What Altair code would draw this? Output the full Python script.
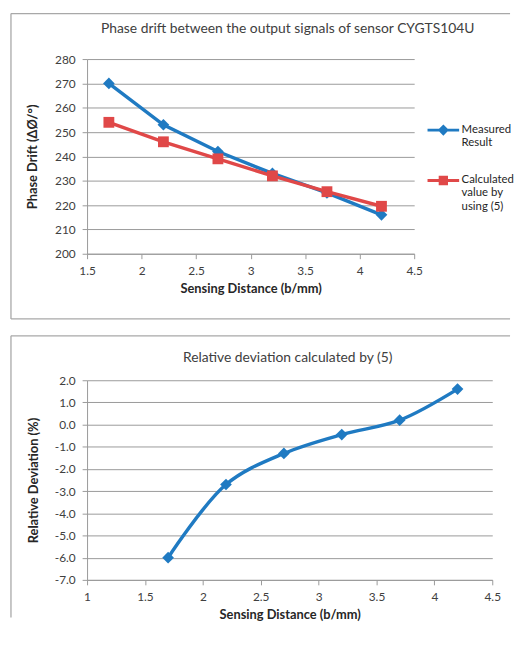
import altair as alt
import pandas as pd

# ---- data ----
distance = [1.7, 2.2, 2.7, 3.2, 3.7, 4.2]
measured = [270, 253, 242, 233, 225, 216]
calculated = [254, 246, 239, 232, 225.5, 219.5]
deviation = [-6.0, -2.7, -1.3, -0.45, 0.2, 1.6]
series_names = ["Measured Result", "Calculated value by using (5)"]
top_title = "Phase drift between the output signals of sensor CYGTS104U"
bot_title = "Relative deviation calculated by (5)"
top_x_ticks = [1.5, 2, 2.5, 3, 3.5, 4, 4.5]
top_y_ticks = [200, 210, 220, 230, 240, 250, 260, 270, 280]
bot_x_ticks = [1, 1.5, 2, 2.5, 3, 3.5, 4, 4.5]
bot_y_ticks = [-7, -6, -5, -4, -3, -2, -1, 0, 1, 2]

BLUE = "#1f7ac2"
RED = "#e04848"
GRID = "#9a9a9a"
FRAME = "#a8a8a8"
FONT = "Lato"

df_top = pd.DataFrame({
    "distance": distance * 2,
    "value": measured + calculated,
    "series": [series_names[0]] * len(distance) + [series_names[1]] * len(distance),
})
df_bot = pd.DataFrame({"distance": distance, "deviation": deviation})
one = pd.DataFrame({"k": [0]})

TW, TH = 331, 197
BW, BH = 410, 202

# ---------------- top panel ----------------
xt = alt.X("distance:Q", scale=alt.Scale(domain=[1.5, 4.5], nice=False, zero=False),
           axis=alt.Axis(values=top_x_ticks, tickCount=7, format="~g", grid=False, labelOverlap=False,
                         labelFlush=False, title="Sensing Distance (b/mm)"))
yt = alt.Y("value:Q", scale=alt.Scale(domain=[200, 280], nice=False, zero=False),
           axis=alt.Axis(values=top_y_ticks, tickCount=9, format="d", grid=True, titlePadding=15,
                         labelOverlap=False, labelFlush=False, labelSeparation=-20,
                         title="Phase Drift (ΔØ/°)"))

base_top = alt.Chart(df_top)
m_line = base_top.transform_filter(alt.datum.series == series_names[0]).mark_line(
    color=BLUE, strokeWidth=3.5).encode(x=xt, y=yt)
m_pts = base_top.transform_filter(alt.datum.series == series_names[0]).mark_point(
    shape="diamond", filled=True, size=140, color=BLUE, opacity=1).encode(x=xt, y=yt)
c_line = base_top.transform_filter(alt.datum.series == series_names[1]).mark_line(
    color=RED, strokeWidth=3.5).encode(x=xt, y=yt)
c_pts = base_top.transform_filter(alt.datum.series == series_names[1]).mark_point(
    shape="square", filled=True, size=120, color=RED, opacity=1).encode(x=xt, y=yt)

path_m = "M-1,0.4L1,0.4M0,0.18L0.22,0.4L0,0.62L-0.22,0.4Z"
path_c = "M-1,0.4L1,0.4M-0.2,0.2L0.2,0.2L0.2,0.6L-0.2,0.6Z"
label_expr = ("datum.label == 'Measured Result' ? ['Measured', 'Result'] : "
              "['Calculated', 'value by', 'using (5)']")
leg = alt.Legend(title=None, labelExpr=label_expr)
legend_layer = base_top.transform_filter("datum.distance < 0").mark_point(
    filled=True, strokeWidth=3).encode(
    x=xt, y=yt,
    color=alt.Color("series:N", scale=alt.Scale(domain=series_names, range=[BLUE, RED]), legend=leg),
    stroke=alt.Stroke("series:N", scale=alt.Scale(domain=series_names, range=[BLUE, RED]), legend=leg),
    shape=alt.Shape("series:N", scale=alt.Scale(domain=series_names, range=[path_m, path_c]), legend=leg),
)

fr = alt.Chart(one)
top_deco = alt.layer(
    fr.mark_rule(color=FRAME, strokeWidth=1.3).encode(x=alt.value(-77), x2=alt.value(428), y=alt.value(-46)),
    fr.mark_rule(color=FRAME, strokeWidth=1.3).encode(x=alt.value(-77), y=alt.value(-46), y2=alt.value(263)),
    fr.mark_rule(color=FRAME, strokeWidth=1.3).encode(x=alt.value(-77), x2=alt.value(428), y=alt.value(263)),
    fr.mark_text(font=FONT, fontSize=14, color="#404040", align="center", baseline="middle").encode(
        x=alt.value(203), y=alt.value(-30), text=alt.value(top_title)),
)

top = alt.layer(m_line, m_pts, c_line, c_pts, legend_layer, top_deco).properties(width=TW, height=TH)

# ---------------- bottom panel ----------------
xb = alt.X("distance:Q", scale=alt.Scale(domain=[1, 4.5], nice=False, zero=False),
           axis=alt.Axis(values=bot_x_ticks, tickCount=8, format="~g", grid=False, labelOverlap=False,
                         labelFlush=False, title="Sensing Distance (b/mm)"))
yb = alt.Y("deviation:Q", scale=alt.Scale(domain=[-7, 2], nice=False, zero=False),
           axis=alt.Axis(values=bot_y_ticks, tickCount=10, grid=True, titlePadding=14,
                         labelOverlap=False, labelFlush=False, labelSeparation=-20,
                         labelExpr="replace(format(datum.value, '.1f'), '\u2212', '-')",
                         title="Relative Deviation (%)"))
base_bot = alt.Chart(df_bot)
d_line = base_bot.mark_line(color=BLUE, strokeWidth=3.5, interpolate="catmull-rom").encode(x=xb, y=yb)
d_pts = base_bot.mark_point(shape="diamond", filled=True, size=140, color=BLUE, opacity=1).encode(
    x=xb, y=yb)
bot_deco = alt.layer(
    fr.mark_rule(color=FRAME, strokeWidth=1.3).encode(x=alt.value(-77), x2=alt.value(428), y=alt.value(-45)),
    fr.mark_rule(color=FRAME, strokeWidth=1.3).encode(x=alt.value(-77), y=alt.value(-45), y2=alt.value(240)),
    fr.mark_text(font=FONT, fontSize=14, color="#404040", align="center", baseline="middle").encode(
        x=alt.value(203), y=alt.value(-22), text=alt.value(bot_title)),
)
bottom = alt.layer(d_line, d_pts, bot_deco).properties(width=BW, height=BH)

chart = alt.vconcat(top, bottom, spacing=128, bounds="flush").properties(
    padding={"left": 2, "top": 1, "right": 0, "bottom": 0}
).configure_view(stroke=None).configure_axis(
    labelFont=FONT, labelFontSize=12, labelColor="#404040",
    titleFont=FONT, titleFontSize=13, titleFontWeight="bold", titleColor="#262626",
    domainColor=GRID, tickColor=GRID, gridColor=GRID, gridWidth=1, domainWidth=1,
    tickSize=5, labelOverlap=False,
).configure_axisX(labelPadding=7, titlePadding=6).configure_axisY(labelPadding=7).configure_legend(
    orient="none", legendX=343, legendY=48, padding=0,
    symbolSize=1024, symbolStrokeWidth=3, symbolOpacity=1,
    labelFont=FONT, labelFontSize=11.5, labelColor="#262626", labelOffset=1,
    labelBaseline="top", labelLimit=200, rowPadding=8,
)

chart.save("out.html", embed_options={"renderer": "svg", "actions": False})
